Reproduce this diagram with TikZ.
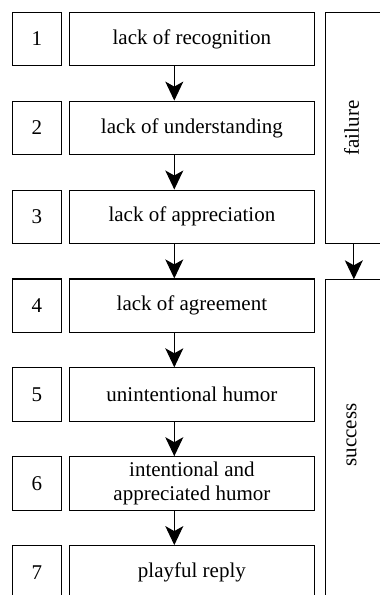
\documentclass[tikz,border=0pt]{standalone}
\usepackage{fontspec}
\setmainfont{Liberation Serif}
\usetikzlibrary{positioning,arrows.meta}

\begin{document}
\begin{tikzpicture}[
      x=1pt,y=-1pt,
      font=\rmfamily\fontsize{21}{23.5}\selectfont,
      num/.style ={draw,line width=1.1pt,minimum width=49pt,minimum height=53.5pt,inner sep=0pt},
      lvl/.style ={draw,line width=1.1pt,minimum width=244.3pt,minimum height=53.5pt,inner sep=0pt,align=center},
      side/.style={draw,line width=1.1pt,minimum width=75pt,anchor=north west,inner sep=0pt},
      arr/.style ={-{Stealth[length=19pt,width=18pt,inset=5pt]},line width=1.1pt}]
      \useasboundingbox (0,0) rectangle (380,595);
      \clip (0,0) rectangle (380,595);
      % Levels
      \def\pitch{88.9}
      \foreach \txt [count=\i] in {lack of recognition,lack of understanding,lack of appreciation,
          lack of agreement,unintentional humor,{intentional and\\appreciated humor},playful reply}{
        \node[lvl] (L\i) at (191.9,{39+(\i-1)*\pitch}) {\txt};
        \node[num,left=7.4pt of L\i] (N\i) {\i};
      }
      % Arrows between levels
      \foreach \i [evaluate=\i as \j using int(\i+1)] in {1,...,6}{
        \draw[arr] ([xshift=-17.6pt]L\i.south) -- ([xshift=-17.6pt]L\j.north);
      }
      % Failure / success
      \node[side,minimum height=231pt] (fail) at (325,12.3) {};
      \node[side,minimum height=320pt] (succ) at (325,279.3) {};
      \node[rotate=90] (failtxt) at (351.5,128) {failure};
      \node[rotate=90] (succtxt) at (351.5,435) {success};
      \draw[arr] ([xshift=-9.2pt]fail.south) -- ([xshift=-9.2pt]succ.north);
  \end{tikzpicture}
\end{document}
